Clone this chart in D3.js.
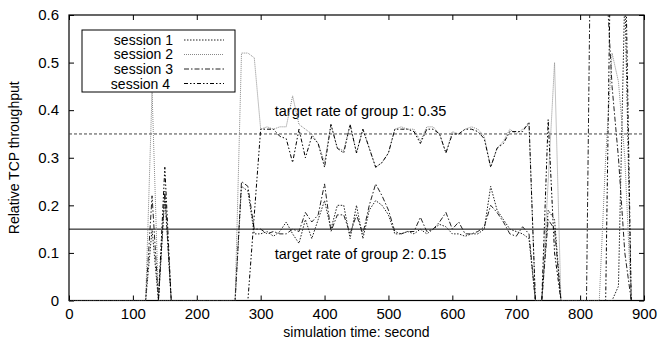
<!DOCTYPE html>
<html>
<head>
<meta charset="utf-8">
<script src="https://cdn.jsdelivr.net/npm/d3@7"></script>
<style>
  body { margin: 0; background: #fff; }
  svg { font-family: "Liberation Sans", Arial, sans-serif; }
</style>
</head>
<body>
<div id="chart"></div>
<script>

// [time (s), relative throughput] for each session
var session1 = [[0,0],[120,0],[130,0.15],[140,0],[150,0.22],[160,0],[260,0],[270,0.24],[280,0.23],[290,0.14],
  [300,0.14],[310,0.145],[320,0.135],[330,0.145],[340,0.165],[350,0.14],[360,0.12],[370,0.17],[380,0.13],[390,0.17],
  [400,0.21],[410,0.15],[420,0.2],[430,0.2],[440,0.13],[450,0.2],[460,0.13],[470,0.19],[480,0.21],[490,0.2],
  [500,0.18],[510,0.14],[520,0.14],[530,0.145],[540,0.14],[550,0.15],[560,0.14],[570,0.15],[580,0.16],[590,0.155],
  [600,0.14],[610,0.14],[620,0.135],[630,0.14],[640,0.14],[650,0.15],[660,0.24],[670,0.19],[680,0.17],[690,0.15],
  [700,0.145],[710,0.14],[720,0.13],[730,0],[740,0],[750,0.19],[760,0.17],[770,0],[850,0],[860,0.03],[870,0.65],[880,0]];

var session2 = [[0,0],[120,0],[130,0.44],[140,0],[260,0],[270,0.52],[280,0.52],[290,0.51],
  [300,0.36],[310,0.365],[320,0.36],[330,0.365],[340,0.365],[350,0.43],[360,0.37],[370,0.36],[380,0.35],[390,0.33],
  [400,0.29],[410,0.37],[420,0.32],[430,0.315],[440,0.37],[450,0.31],[460,0.36],[470,0.32],[480,0.28],[490,0.29],
  [500,0.31],[510,0.36],[520,0.365],[530,0.36],[540,0.36],[550,0.335],[560,0.365],[570,0.365],[580,0.35],[590,0.31],
  [600,0.355],[610,0.35],[620,0.36],[630,0.365],[640,0.36],[650,0.345],[660,0.28],[670,0.32],[680,0.335],[690,0.36],
  [700,0.35],[710,0.36],[720,0.37],[730,0],[740,0],[750,0.25],[760,0.5],[770,0],[830,0],[840,0.3],[850,0.52],
  [860,0.46],[870,0.3],[880,0]];

var session3 = [[0,0],[120,0],[130,0.22],[140,0],[150,0.23],[160,0],[260,0],[270,0.25],[280,0.24],[290,0.15],
  [300,0.15],[310,0.14],[320,0.145],[330,0.14],[340,0.14],[350,0.15],[360,0.145],[370,0.185],[380,0.165],[390,0.18],
  [400,0.245],[410,0.145],[420,0.18],[430,0.18],[440,0.14],[450,0.18],[460,0.14],[470,0.2],[480,0.245],[490,0.22],
  [500,0.19],[510,0.145],[520,0.14],[530,0.145],[540,0.145],[550,0.175],[560,0.145],[570,0.15],[580,0.165],[590,0.185],
  [600,0.15],[610,0.165],[620,0.14],[630,0.14],[640,0.145],[650,0.155],[660,0.2],[670,0.185],[680,0.165],[690,0.14],
  [700,0.135],[710,0.155],[720,0.14],[730,0],[740,0],[750,0.17],[760,0.15],[770,0],[810,0],[820,1.2],[830,1.2],
  [840,0.7],[850,0.45],[860,0.3],[870,0.1],[880,0]];

var session4 = [[0,0],[140,0],[150,0.28],[160,0],[280,0],
  [300,0.36],[310,0.36],[320,0.36],[330,0.345],[340,0.34],[350,0.29],[360,0.36],[370,0.3],[380,0.345],[390,0.33],
  [400,0.28],[410,0.37],[420,0.32],[430,0.31],[440,0.37],[450,0.31],[460,0.36],[470,0.32],[480,0.28],[490,0.29],
  [500,0.31],[510,0.36],[520,0.36],[530,0.36],[540,0.355],[550,0.33],[560,0.36],[570,0.36],[580,0.35],[590,0.31],
  [600,0.35],[610,0.35],[620,0.36],[630,0.36],[640,0.355],[650,0.34],[660,0.28],[670,0.32],[680,0.33],[690,0.355],
  [700,0.355],[710,0.355],[720,0.375],[730,0],[740,0],[750,0.38],[760,0.1],[770,0],[840,0],[850,0.95],[860,0.95],
  [870,0.8],[880,0]];

var sessionNames = ["session 1", "session 2", "session 3", "session 4"];
var targetRates = [0.35, 0.15];
var targetLabels = ["target rate of group 1: 0.35", "target rate of group 2: 0.15"];
var xTicks = [0, 100, 200, 300, 400, 500, 600, 700, 800, 900];
var yTicks = [0, 0.1, 0.2, 0.3, 0.4, 0.5, 0.6];

var series = [session1, session2, session3, session4];
var styles = [
    {color: "#222", dash: "1.5,1.5"},
    {color: "#888", dash: "1,1"},
    {color: "#222", dash: "5,2,1.5,2"},
    {color: "#000", dash: "4,2,1.5,2,1.5,2"}
];

var margin = {top: 15, right: 14, bottom: 43.5, left: 69},
    width = 658 - margin.left - margin.right,
    height = 344 - margin.top - margin.bottom;

var x = d3.scaleLinear().domain([0, 900]).range([0, width]);
var y = d3.scaleLinear().domain([0, 0.6]).range([height, 0]);

var svg = d3.select("#chart").append("svg")
        .attr("width", 658)
        .attr("height", 344)
       .append("g")
        .attr("transform", "translate(" + margin.left + "," + margin.top + ")");

svg.append("clipPath").attr("id", "plot-clip")
    .append("rect").attr("width", width).attr("height", height);

// axes, ticks point inward and mirror on top / right
var fmtY = function(d) { return d === 0 ? "0" : d3.format(".1f")(d); };

svg.append("g")
    .attr("transform", "translate(0," + height + ")")
    .call(d3.axisBottom(x).tickValues(xTicks).tickSizeInner(-5).tickSizeOuter(0).tickPadding(8))
    .call(function(g) { g.select(".domain").remove(); })
    .selectAll("text").style("font-size", "15px").attr("fill", "#000");

svg.append("g")
    .call(d3.axisLeft(y).tickValues(yTicks).tickFormat(fmtY).tickSizeInner(-5).tickSizeOuter(0).tickPadding(10))
    .call(function(g) { g.select(".domain").remove(); })
    .selectAll("text").style("font-size", "15px").attr("fill", "#000");

svg.append("g")
    .call(d3.axisTop(x).tickValues(xTicks).tickSizeInner(-5).tickSizeOuter(0).tickFormat(""))
    .call(function(g) { g.select(".domain").remove(); });

svg.append("g")
    .attr("transform", "translate(" + width + ",0)")
    .call(d3.axisRight(y).tickValues(yTicks).tickSizeInner(-5).tickSizeOuter(0).tickFormat(""))
    .call(function(g) { g.select(".domain").remove(); });

svg.append("rect")
    .attr("width", width).attr("height", height)
    .attr("fill", "none").attr("stroke", "#000").attr("stroke-width", 1.2);

// target lines
svg.append("line")
    .attr("x1", 0).attr("x2", width)
    .attr("y1", y(targetRates[0])).attr("y2", y(targetRates[0]))
    .attr("stroke", "#444").attr("stroke-dasharray", "3,2");
svg.append("line")
    .attr("x1", 0).attr("x2", width)
    .attr("y1", y(targetRates[1])).attr("y2", y(targetRates[1]))
    .attr("stroke", "#000");

svg.append("text").attr("x", x(322)).attr("y", y(targetRates[0]) - 18)
    .style("font-size", "14.5px").text(targetLabels[0]);
svg.append("text").attr("x", x(322)).attr("y", y(targetRates[1]) + 30)
    .style("font-size", "14.5px").text(targetLabels[1]);

// session lines
var line = d3.line()
    .x(function(d) { return x(d[0]); })
    .y(function(d) { return y(d[1]); });

svg.append("g").attr("clip-path", "url(#plot-clip)")
  .selectAll("path.session")
    .data(series)
  .enter().append("path")
    .attr("class", "session")
    .attr("d", line)
    .attr("fill", "none")
    .attr("stroke", function(d, i) { return styles[i].color; })
    .attr("stroke-width", 1)
    .attr("stroke-dasharray", function(d, i) { return styles[i].dash; });

// legend
var legend = svg.append("g").attr("transform", "translate(13,15)");
legend.append("rect")
    .attr("width", 153).attr("height", 62)
    .attr("fill", "#fff").attr("stroke", "#000");

var rows = legend.selectAll("g.row")
    .data(sessionNames)
  .enter().append("g")
    .attr("class", "row")
    .attr("transform", function(d, i) { return "translate(0," + (10 + i * 14.5) + ")"; });

rows.append("text")
    .attr("x", function(d, i) { return i === 3 ? 88 : 91; })
    .attr("y", function(d, i) { return i === 3 ? 1 : 0; })
    .attr("dy", "0.35em")
    .attr("text-anchor", "end")
    .style("font-size", "14px")
    .text(function(d) { return d; });

rows.append("line")
    .attr("x1", 102).attr("x2", 142)
    .attr("stroke", function(d, i) { return styles[i].color; })
    .attr("stroke-dasharray", function(d, i) { return styles[i].dash; });

// axis titles
svg.append("text")
    .attr("x", width / 2).attr("y", height + 36)
    .attr("text-anchor", "middle")
    .style("font-size", "14px")
    .text("simulation time: second");

svg.append("text")
    .attr("transform", "translate(-50," + (height / 2) + ") rotate(-90)")
    .attr("text-anchor", "middle")
    .style("font-size", "14px")
    .text("Relative TCP throughput");

</script>
</body>
</html>
